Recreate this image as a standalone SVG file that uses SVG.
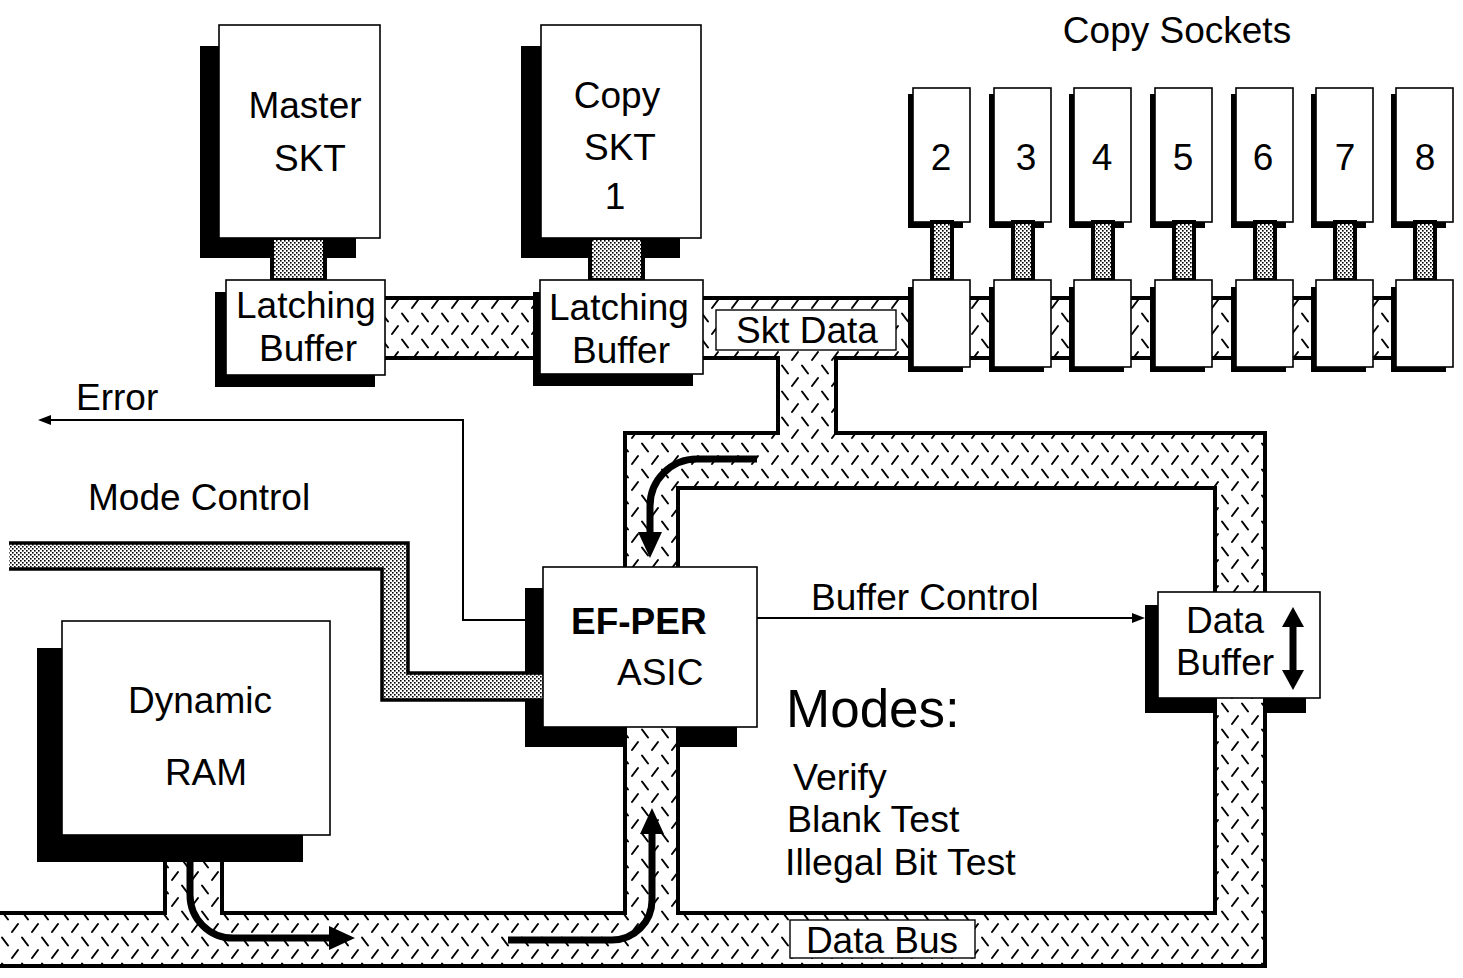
<svg xmlns="http://www.w3.org/2000/svg" width="1463" height="978" viewBox="0 0 1463 978">
<style>
  .box{fill:#fff;stroke:#000;stroke-width:1.6}
  .shadow{fill:#000}
  .bus{fill:url(#hatch)}
  .edge{fill:none;stroke:#000;stroke-width:4}
  .edge2{fill:none;stroke:#000;stroke-width:3.5}
  .flow{fill:none;stroke:#000;stroke-width:7}
  .sig{fill:none;stroke:#000;stroke-width:2}
  .conn{fill:url(#stipple);stroke:#000;stroke-width:4}
  .lbl{fill:#fff;stroke:#000;stroke-width:1.4}
  text{font-family:"Liberation Sans",Arial,Helvetica,sans-serif;font-size:37px;fill:#000}
  .c{text-anchor:middle}
  .b{font-weight:bold}
  .big{font-size:53px}
  .mode{font-size:37.5px}
</style>
<defs>
  <pattern id="hatch" width="20" height="26" patternUnits="userSpaceOnUse">
    <rect width="20" height="26" fill="#fff"/>
    <path d="M2,1.5 L8,9.5 M12,22 L18,14" stroke="#000" stroke-width="2" stroke-linecap="round"/>
  </pattern>
  <pattern id="stipple" width="4" height="4" patternUnits="userSpaceOnUse">
    <rect width="4" height="4" fill="#fff"/>
    <rect width="1.6" height="1.6" fill="#000"/>
    <rect x="2" y="2" width="1.6" height="1.6" fill="#000"/>
  </pattern>
  <marker id="bigHead" markerUnits="userSpaceOnUse" markerWidth="26" markerHeight="24" refX="2" refY="12" orient="auto-start-reverse" viewBox="0 0 26 24">
    <path d="M0,0 L26,12 L0,24 Z" fill="#000"/>
  </marker>
  <marker id="dbHead" markerUnits="userSpaceOnUse" markerWidth="20" markerHeight="22" refX="2" refY="11" orient="auto-start-reverse" viewBox="0 0 20 22">
    <path d="M0,0 L20,11 L0,22 Z" fill="#000"/>
  </marker>
  <marker id="smallHead" markerUnits="userSpaceOnUse" markerWidth="13" markerHeight="10" refX="1" refY="5" orient="auto" viewBox="0 0 13 10">
    <path d="M0,0 L13,5 L0,10 Z" fill="#000"/>
  </marker>
</defs>

<rect width="1463" height="978" fill="#fff"/>

<!-- buses, signal lines and flow arrows -->
<g id="connectors">
  <!-- data bus loop, socket data bus and stubs -->
  <path class="bus" fill-rule="evenodd" d="M380,298 H1440 V358 H836 V433 H1265 V966 H-5 V913 H165 V858 H222 V913 H625 V433 H778 V358 H380 Z M678,488 H1215 V913 H678 Z"/>
  <path class="edge" d="M380,298 H1440 V358 H836 V433 H1265 V966 H-5 V913 H165 V858 H222 V913 H625 V433 H778 V358 H380 Z M678,488 H1215 V913 H678 Z"/>
  <!-- mode control bus -->
  <path fill="url(#stipple)" d="M9,543 H408 V673 H543 V700 H382 V569 H9 Z"/>
  <path class="edge2" d="M9,543 H408 V673 H543 M9,569 H382 V700 H543"/>
  <!-- socket to latch connectors -->
  <rect class="conn" x="272" y="238" width="53" height="42"/>
  <rect class="conn" x="590" y="238" width="53" height="42"/>
  <!-- error and buffer control signals -->
  <path class="sig" d="M525,620 H463 V420 H50" marker-end="url(#smallHead)"/>
  <path class="sig" d="M757,618 H1133" marker-end="url(#smallHead)"/>
  <!-- data flow arrows -->
  <path class="flow" d="M757,459 H697 A47,47 0 0 0 650,506 V534" marker-end="url(#bigHead)"/>
  <path class="flow" d="M190,862 V895 A43,43 0 0 0 233,938 H331" marker-end="url(#bigHead)"/>
  <path class="flow" d="M508,940 H612 A40,40 0 0 0 652,900 V832" marker-end="url(#bigHead)"/>
</g>

<g id="master-skt">
  <path class="shadow" d="M200,46 H219 V238 H270 V258 H200 Z M327,238 H356 V258 H327 Z"/>
  <rect class="box" x="219" y="25" width="161" height="213"/>
  <text class="c" x="305" y="118">Master</text>
  <text class="c" x="310" y="171">SKT</text>
</g>

<g id="copy-skt-1">
  <path class="shadow" d="M521,46 H541 V238 H588 V258 H521 Z M645,238 H680 V258 H645 Z"/>
  <rect class="box" x="541" y="25" width="160" height="213"/>
  <text class="c" x="617" y="108">Copy</text>
  <text class="c" x="620" y="160">SKT</text>
  <text class="c" x="615" y="209">1</text>
</g>

<g id="latch-buffer-1">
  <rect class="shadow" x="215" y="292" width="160" height="95"/>
  <rect class="box" x="226" y="280" width="159" height="95"/>
  <text class="c" x="306" y="318">Latching</text>
  <text class="c" x="308" y="361">Buffer</text>
</g>

<g id="latch-buffer-2">
  <rect class="shadow" x="533" y="292" width="160" height="94"/>
  <rect class="box" x="540" y="280" width="163" height="94"/>
  <text class="c" x="619" y="320">Latching</text>
  <text class="c" x="621" y="363">Buffer</text>
</g>

<g id="skt-data-label">
  <rect class="lbl" x="716" y="310" width="180" height="40"/>
  <text class="c" x="807" y="343">Skt Data</text>
</g>

<g id="copy-sockets">
  <text class="c" x="1177" y="43">Copy Sockets</text>
  <g id="socket-2">
    <rect class="shadow" x="908" y="94" width="55" height="134"/>
    <rect class="box" x="913" y="88" width="57" height="134"/>
    <rect class="conn" x="932" y="222" width="20" height="58"/>
    <rect class="shadow" x="908" y="287" width="55" height="85"/>
    <rect class="box" x="913" y="280" width="57" height="87"/>
    <text class="c" x="941" y="170">2</text>
  </g>
  <g id="socket-3">
    <rect class="shadow" x="989" y="94" width="55" height="134"/>
    <rect class="box" x="994" y="88" width="57" height="134"/>
    <rect class="conn" x="1013" y="222" width="20" height="58"/>
    <rect class="shadow" x="989" y="287" width="55" height="85"/>
    <rect class="box" x="994" y="280" width="57" height="87"/>
    <text class="c" x="1026" y="170">3</text>
  </g>
  <g id="socket-4">
    <rect class="shadow" x="1069" y="94" width="55" height="134"/>
    <rect class="box" x="1074" y="88" width="57" height="134"/>
    <rect class="conn" x="1093" y="222" width="20" height="58"/>
    <rect class="shadow" x="1069" y="287" width="55" height="85"/>
    <rect class="box" x="1074" y="280" width="57" height="87"/>
    <text class="c" x="1102" y="170">4</text>
  </g>
  <g id="socket-5">
    <rect class="shadow" x="1150" y="94" width="55" height="134"/>
    <rect class="box" x="1155" y="88" width="57" height="134"/>
    <rect class="conn" x="1174" y="222" width="20" height="58"/>
    <rect class="shadow" x="1150" y="287" width="55" height="85"/>
    <rect class="box" x="1155" y="280" width="57" height="87"/>
    <text class="c" x="1183" y="170">5</text>
  </g>
  <g id="socket-6">
    <rect class="shadow" x="1231" y="94" width="55" height="134"/>
    <rect class="box" x="1236" y="88" width="57" height="134"/>
    <rect class="conn" x="1255" y="222" width="20" height="58"/>
    <rect class="shadow" x="1231" y="287" width="55" height="85"/>
    <rect class="box" x="1236" y="280" width="57" height="87"/>
    <text class="c" x="1263" y="170">6</text>
  </g>
  <g id="socket-7">
    <rect class="shadow" x="1311" y="94" width="55" height="134"/>
    <rect class="box" x="1316" y="88" width="57" height="134"/>
    <rect class="conn" x="1335" y="222" width="20" height="58"/>
    <rect class="shadow" x="1311" y="287" width="55" height="85"/>
    <rect class="box" x="1316" y="280" width="57" height="87"/>
    <text class="c" x="1345" y="170">7</text>
  </g>
  <g id="socket-8">
    <rect class="shadow" x="1391" y="94" width="55" height="134"/>
    <rect class="box" x="1396" y="88" width="57" height="134"/>
    <rect class="conn" x="1415" y="222" width="20" height="58"/>
    <rect class="shadow" x="1391" y="287" width="55" height="85"/>
    <rect class="box" x="1396" y="280" width="57" height="87"/>
    <text class="c" x="1425" y="170">8</text>
  </g>
</g>

<g id="error-label">
  <text x="76" y="410">Error</text>
</g>

<g id="mode-control-label">
  <text x="88" y="510">Mode Control</text>
</g>

<g id="asic">
  <path class="shadow" d="M525,588 H543 V673 H525 Z M525,700 H543 V747 H525 Z M543,727 H625 V747 H543 Z M678,727 H737 V747 H678 Z"/>
  <rect class="box" x="543" y="567" width="214" height="160"/>
  <text class="b" x="571" y="634">EF-PER</text>
  <text x="617" y="685">ASIC</text>
</g>

<g id="buffer-control-label">
  <text x="811" y="610">Buffer Control</text>
</g>

<g id="data-buffer">
  <path class="shadow" d="M1145,605 H1158 V713 H1145 Z M1158,698 H1215 V713 H1158 Z M1265,698 H1306 V713 H1265 Z"/>
  <rect class="box" x="1158" y="592" width="162" height="106"/>
  <text x="1186" y="633">Data</text>
  <text x="1176" y="675">Buffer</text>
  <path class="flow" d="M1293,625 V672" marker-start="url(#dbHead)" marker-end="url(#dbHead)"/>
</g>

<g id="dynamic-ram">
  <rect class="shadow" x="37" y="648" width="266" height="214"/>
  <rect class="box" x="62" y="621" width="268" height="214"/>
  <text class="c" x="200" y="713">Dynamic</text>
  <text class="c" x="206" y="785">RAM</text>
</g>

<g id="modes">
  <text class="big" x="786" y="727">Modes:</text>
  <text class="mode" x="793" y="790">Verify</text>
  <text class="mode" x="787" y="832">Blank Test</text>
  <text class="mode" x="785" y="875">Illegal Bit Test</text>
</g>

<g id="data-bus-label">
  <rect class="lbl" x="790" y="920" width="185" height="38"/>
  <text class="c" x="882" y="953">Data Bus</text>
</g>
</svg>
